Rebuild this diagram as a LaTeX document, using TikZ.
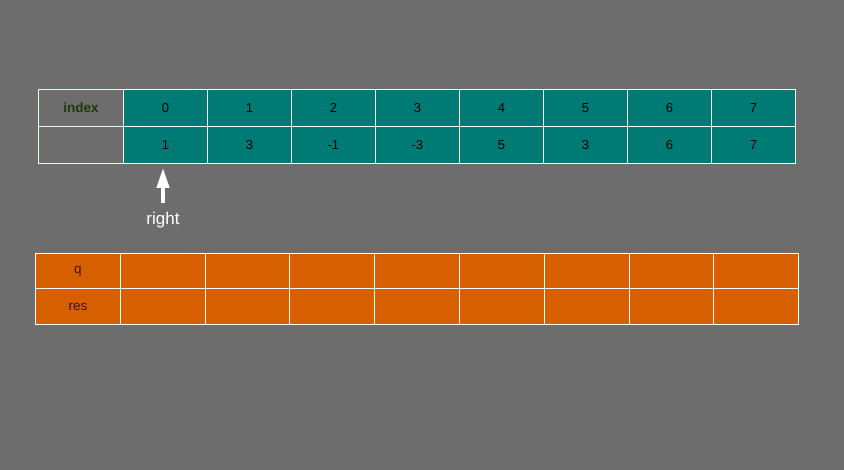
\documentclass[tikz,border=0pt]{standalone}
\usepackage{fontspec}
\setmainfont{Liberation Sans}
\usetikzlibrary{arrows.meta}
\definecolor{bgc}{HTML}{6C6D6C}
\definecolor{teal}{HTML}{007A74}
\definecolor{orng}{HTML}{D65F00}
\definecolor{idxc}{HTML}{1E3A06}
\definecolor{resc}{HTML}{3A1400}
\begin{document}
\begin{tikzpicture}[x=1pt,y=-1pt,
  cellT/.style={draw=white,line width=0.8pt,fill=teal,minimum width=84pt,minimum height=37pt,inner sep=0pt,anchor=north west,font=\fontsize{13}{15}\selectfont,text=black},
  cellG/.style={cellT,fill=bgc,minimum width=85pt,draw=white!90!green},
  cellO/.style={draw=white,line width=0.8pt,fill=orng,minimum width=85pt,minimum height=35.5pt,inner sep=0pt,anchor=north west,font=\fontsize{13.5}{15}\selectfont,text=resc}]
\fill[bgc] (0,0) rectangle (844,470);
\useasboundingbox (0,0) rectangle (844,470);
% top table
\node[cellG,font=\fontsize{13.5}{15}\selectfont\bfseries,text=idxc] (h0) at (38,89) {index};
\node[cellG] (v0) at (38,126) {};
\foreach \i/\a/\b in {0/0/1,1/1/3,2/2/-1,3/3/-3,4/4/5,5/5/3,6/6/6,7/7/7}{
  \node[cellT] (h\a x) at ({123+84*\i},89) {\a};
  \node[cellT] (v\i x) at ({123+84*\i},126) {\b};
}
% arrow
\coordinate (ab) at (163,203);
\draw[white,line width=4pt,-{Triangle[width=12pt,length=20pt]}] (ab) -- ([yshift=-4pt]ab |- v0x.south);
\node[text=white,font=\fontsize{17}{19}\selectfont] (rl) at (163,220) {right};
% bottom table
\node[cellO] (q0) at (35,253) {q};
\node[cellO,minimum height=36pt] (r0) at (35,288.5) {res};
\foreach \i in {1,...,8}{
  \node[cellO] (q\i) at ({35+84.8*\i},253) {};
  \node[cellO,minimum height=36pt] (r\i) at ({35+84.8*\i},288.5) {};
}
\end{tikzpicture}
\end{document}
